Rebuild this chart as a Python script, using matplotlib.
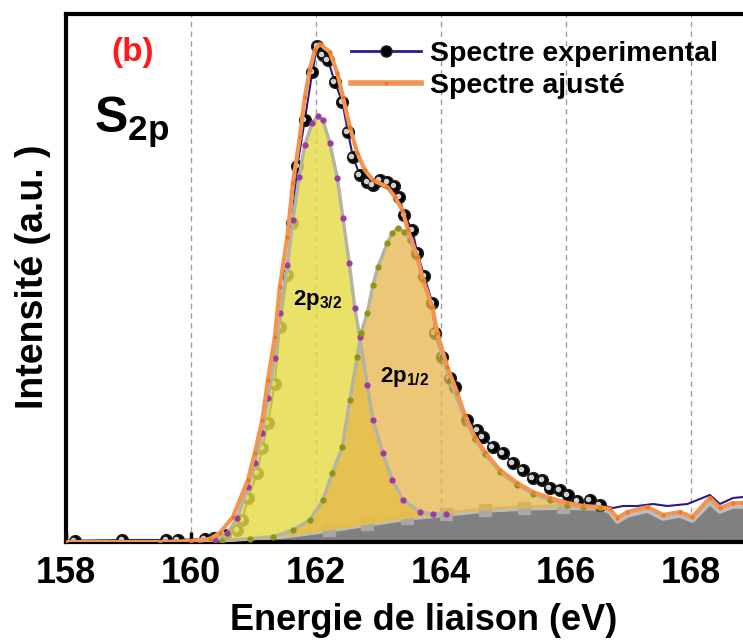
import numpy as np
import matplotlib
matplotlib.use('Agg')
import matplotlib.pyplot as plt
from matplotlib.lines import Line2D
import matplotlib.transforms as mtrans

plt.rcParams['font.family'] = 'Liberation Sans'
plt.rcParams['font.weight'] = 'bold'
plt.rcParams['mathtext.fontset'] = 'custom'
plt.rcParams['mathtext.rm'] = 'Liberation Sans:bold'
plt.rcParams['mathtext.it'] = 'Liberation Sans:bold'
plt.rcParams['mathtext.bf'] = 'Liberation Sans:bold'

# experimental spectrum (binding energy eV, intensity a.u.)
E_exp = [158.14, 158.90, 159.60, 159.79, 160.22, 160.37, 160.54, 160.74, 160.82, 160.91,
         161.06, 161.14, 161.23, 161.34, 161.42, 161.54, 161.62, 161.70, 161.82, 161.94,
         162.02, 162.11, 162.19, 162.30, 162.42, 162.51, 162.59, 162.70, 162.82, 162.91,
         163.02, 163.14, 163.25, 163.33, 163.41, 163.54, 163.62, 163.73, 163.86, 163.90,
         164.02, 164.14, 164.22, 164.42, 164.58, 164.67, 164.83, 164.99, 165.15, 165.31,
         165.47, 165.62, 165.74, 165.90, 166.03, 166.18, 166.38, 166.54, 166.75, 166.91,
         167.14, 167.39, 167.62, 167.94, 168.30, 168.46, 168.67, 168.83]
I_exp = [1, 2, 2, 2, 3, 4, 7, 12, 22, 44,
         69, 94, 119, 158, 215, 267, 319, 376, 422, 470,
         496, 487, 482, 460, 440, 410, 385, 367, 360, 357,
         362, 360, 356, 345, 327, 312, 289, 266, 239, 209,
         185, 164, 155, 122, 112, 105, 95, 89, 79, 72,
         64, 62, 54, 52, 47, 41, 42, 37, 34, 36,
         36, 38, 36, 38, 47, 38, 44, 45]

# fitted envelope
E_fit = [158.00, 159.50, 160.00, 160.30, 160.46, 160.67, 160.91, 161.02, 161.14, 161.23,
         161.34, 161.42, 161.54, 161.63, 161.74, 161.82, 161.90, 161.98, 162.06, 162.22,
         162.34, 162.43, 162.54, 162.66, 162.78, 162.91, 163.14, 163.26, 163.38, 163.47,
         163.62, 163.71, 163.86, 163.94, 164.10, 164.26, 164.38, 164.54, 164.70, 164.94,
         165.22, 165.47, 165.74, 166.02, 166.27, 166.54, 166.70, 166.82, 166.98, 167.30,
         167.55, 167.82, 168.02, 168.30, 168.46, 168.67, 168.83]
I_fit = [0, 0, 1, 3, 9, 25, 62, 89, 122, 162,
         205, 255, 305, 359, 405, 445, 472, 492, 498, 490,
         469, 445, 415, 389, 372, 362, 355, 345, 332, 312,
         285, 262, 235, 209, 175, 149, 127, 105, 90, 72,
         59, 50, 44, 39, 36, 35, 33, 24, 30, 35,
         27, 30, 25, 44, 34, 39, 39]

# Shirley-type background
E_bg = [158.0, 160.0, 160.5, 161.0, 161.6, 162.2, 162.82, 163.45, 164.08, 164.7,
        165.32, 165.95, 166.54, 166.70, 166.82, 166.98, 167.30, 167.55, 167.82, 168.02,
        168.30, 168.46, 168.67, 168.83]
I_bg = [0, 0, 1, 3, 7, 12, 18, 24, 28, 32,
        34, 35, 34, 31, 21, 27, 32, 24, 27, 22,
        40, 31, 36, 36]

# component 2p3/2
E_p32 = [160.14, 160.38, 160.58, 160.74, 160.91, 161.02, 161.14, 161.23, 161.34, 161.42,
         161.54, 161.63, 161.73, 161.82, 161.94, 162.03, 162.11, 162.22, 162.34, 162.43,
         162.53, 162.62, 162.70, 162.82, 162.91, 163.07, 163.22, 163.39, 163.66, 163.87, 164.08]
I_p32 = [0, 2, 9, 24, 55, 79, 109, 144, 184, 229,
         277, 322, 365, 397, 419, 426, 422, 399, 364, 324,
         279, 234, 205, 157, 122, 89, 62, 42, 30, 28, 28]

# component 2p1/2
E_p12 = [160.50, 160.94, 161.31, 161.63, 161.90, 162.11, 162.26, 162.42, 162.54, 162.66,
         162.72, 162.82, 162.91, 162.99, 163.14, 163.22, 163.31, 163.41, 163.50, 163.62,
         163.71, 163.86, 163.94, 164.02, 164.14, 164.38, 164.54, 164.70, 164.94, 165.22,
         165.47, 165.74, 166.02, 166.27, 166.54]
I_p12 = [1, 3, 5, 12, 22, 42, 69, 95, 142, 185,
         209, 229, 257, 275, 299, 309, 314, 310, 302, 285,
         262, 235, 209, 185, 162, 124, 103, 88, 70, 57,
         48, 42, 37, 35, 34]

fig = plt.figure(figsize=(7.43, 6.44), dpi=100)
ax = fig.add_axes([66/743, 1-542/644, 1-66/743, 528/644])

# background
ax.fill_between(E_bg, 0, I_bg, color='#808080', lw=0, zorder=1)
ax.plot(E_bg, I_bg, color='#bdbdbd', lw=4, marker='s', ms=8, markevery=[5, 6, 7, 8, 9, 10, 11],
        mfc='#a8a8a8', mec='#a8a8a8', zorder=1.5)

# experimental
ax.plot(E_exp, I_exp, color='#2e1a87', lw=1.5, zorder=2)
mask = [e < 166.6 for e in E_exp]
ax.plot(E_exp, I_exp, ls='none', marker='o', ms=8.5, mfc='black', mec='#222222',
        markevery=mask, zorder=2.2)
shift = mtrans.offset_copy(ax.transData, fig=fig, x=-1.5, y=1.5, units='dots')
ax.plot(E_exp, I_exp, ls='none', marker='o', ms=3, color='#d0d0d0', markevery=mask,
        transform=shift, zorder=2.3)

# components
base32 = np.interp(E_p32, E_bg, I_bg)
base12 = np.interp(E_p12, E_bg, I_bg)
ax.fill_between(E_p32, base32, I_p32, color='#e6dc47', alpha=0.82, lw=0, zorder=3)
ax.fill_between(E_p12, base12, I_p12, color='#e7b54b', alpha=0.75, lw=0, zorder=3.1)
ax.plot(E_p32, I_p32, color='#b4b4a0', lw=2.5, zorder=3.3)
ax.plot(E_p12, I_p12, color='#b4b4a0', lw=2.5, zorder=3.3)
ax.plot(E_p32, I_p32, ls='none', marker='o', ms=3.5, color='#9c3ca0', zorder=3.5)
ax.plot(E_p12, I_p12, ls='none', marker='o', ms=3.5, color='#8a9614', zorder=3.5)

# fit envelope
ax.plot(E_fit, I_fit, color='#f39550', lw=3, marker='.', ms=4, mfc='#f07a20', mec='#f07a20', zorder=5)

ax.set_xlim(158, 168.83)
ax.set_ylim(0, 528)
ax.set_xticks([158, 160, 162, 164, 166, 168])
ax.set_yticks([])
ax.tick_params(axis='x', direction='in', length=7, width=2.5, labelsize=26, pad=10)
for t in ax.get_xticklabels():
    t.set_fontweight('bold')
ax.grid(axis='x', color='#a0a0a0', ls=(0, (4, 3)), lw=1)
ax.set_axisbelow(True)
for s in ['left', 'top', 'bottom']:
    ax.spines[s].set_linewidth(3)
ax.spines['right'].set_visible(False)

ax.text(159.06, 490, '(b)', color='#ff1a1a', fontsize=24, fontweight='bold', ha='center', va='center', zorder=6)
ax.text(158.44, 409, r'S$_{\mathrm{2p}}$', fontsize=36, fontweight='bold', ha='left', va='baseline', zorder=6)
ax.text(162.03, 237, r'2p$_{3/2}$', fontsize=16, fontweight='bold', ha='center', va='baseline', zorder=6)
ax.text(163.42, 160, r'2p$_{1/2}$', fontsize=16, fontweight='bold', ha='center', va='baseline', zorder=6)

fig.text(424/743, 1-620/644, 'Energie de liaison (eV)', fontsize=26, fontweight='bold', ha='center', va='center')
fig.text(33/743, 1-277/644, 'Intensité (a.u. )', fontsize=27, fontweight='bold', ha='center', va='center', rotation=90)

handles = [Line2D([], [], color='#2e1a87', lw=2, marker='o', ms=8, mfc='black', mec='#222222'),
           Line2D([], [], color='#f39550', lw=4, marker='.', ms=4, mfc='#f07a20', mec='#f07a20')]
leg = fig.legend(handles, ['Spectre experimental', 'Spectre ajusté'], loc='upper left',
                 bbox_to_anchor=(337/743, 1-27/644), frameon=False,
                 handlelength=2.45, handletextpad=0.3, borderpad=0, labelspacing=0.2,
                 prop={'weight': 'bold', 'size': 20.5})

fig.savefig('out.png', dpi=100)
